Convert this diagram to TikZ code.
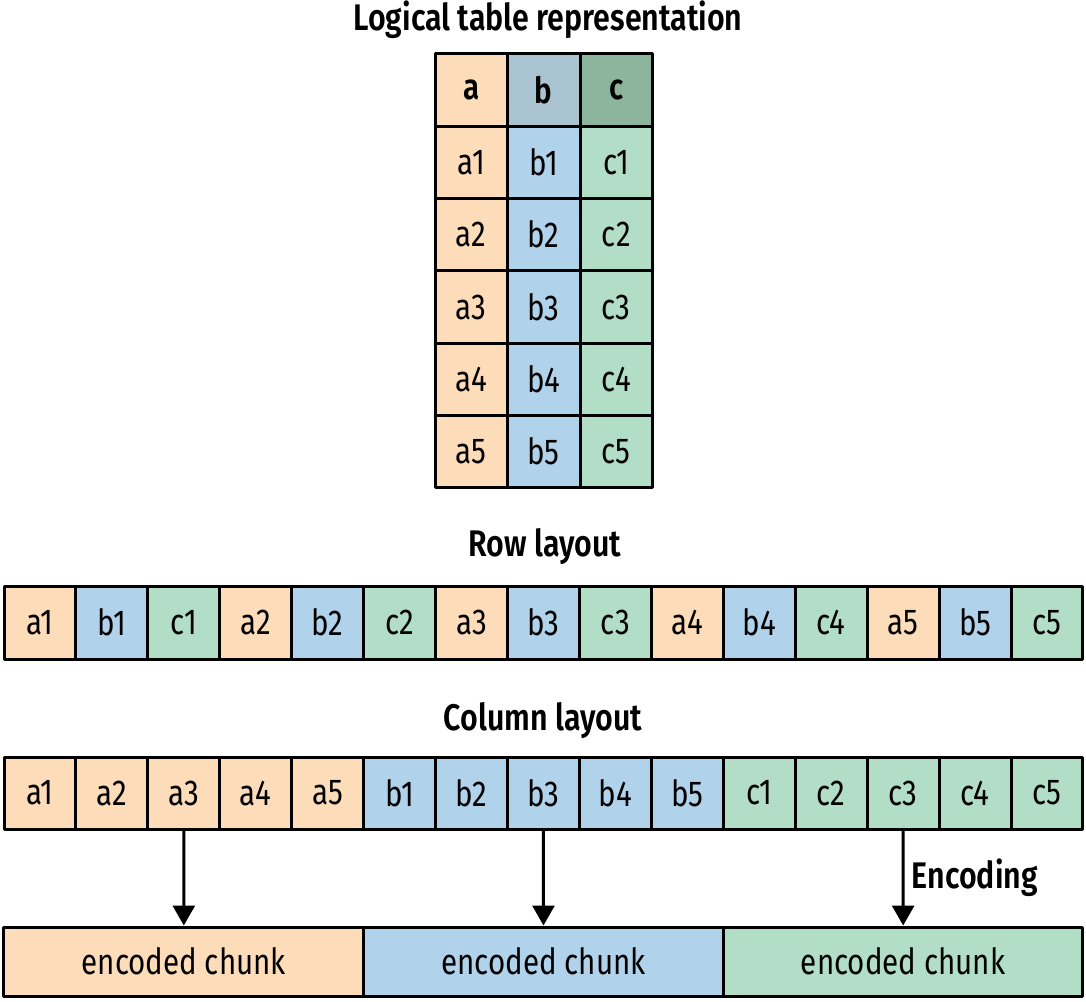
\documentclass[tikz,border=0pt]{standalone}
\usepackage{fontspec}
\setmainfont{Fira Sans}[FakeStretch=0.82,BoldFont={Fira Sans SemiBold}]
\usetikzlibrary{positioning,calc,arrows.meta}

\definecolor{colA}{HTML}{FDDDB9}
\definecolor{colB}{HTML}{B0D2EA}
\definecolor{colC}{HTML}{B2DDC6}
\definecolor{headB}{HTML}{A9C4D0}
\definecolor{headC}{HTML}{8DB49C}

\tikzset{
  cell/.style={draw, line width=3pt, inner sep=0pt, minimum width=72.5pt, minimum height=72.3pt, font=\fontsize{36}{42}\selectfont},
  rowcell/.style={cell, minimum width=71.93pt, minimum height=73pt},
  chunk/.style={cell, minimum width=359.67pt, minimum height=69pt},
  heading/.style={font=\fontsize{37}{43}\selectfont\bfseries},
  enc/.style={line width=3pt, -{Triangle[width=22pt,length=20pt]}}
}

\begin{document}
\begin{tikzpicture}[x=1pt,y=-1pt,line join=round]
\useasboundingbox (0,0) rectangle (1086,1001);
% logical table
\node[heading] (ttl) at (548,20) {Logical table representation};
\foreach \h/\c [count=\k from 0] in {a/colA,b/headB,c/headC}
  \node[cell,fill=\c,font=\fontsize{36}{42}\selectfont\bfseries] (t-\h) at (471.25+72.5*\k,90.1) {\h};
\foreach \r in {1,...,5}{
  \foreach \h/\c [count=\k from 0] in {a/colA,b/colB,c/colC}
    \node[cell,fill=\c] (t-\h\r) at (471.25+72.5*\k,90.1+72.3*\r) {\h\r};
}
% row layout
\node[heading] (rowttl) at (545,547) {Row layout};
\foreach \n/\c [count=\k from 0] in {a1/colA,b1/colB,c1/colC,a2/colA,b2/colB,c2/colC,a3/colA,b3/colB,c3/colC,a4/colA,b4/colB,c4/colC,a5/colA,b5/colB,c5/colC}
  \node[rowcell,fill=\c] (r-\n) at (39.97+71.93*\k,622.5) {\n};
% column layout
\node[heading] (colttl) at (543,721) {Column layout};
\foreach \n/\c [count=\k from 0] in {a1/colA,a2/colA,a3/colA,a4/colA,a5/colA,b1/colB,b2/colB,b3/colB,b4/colB,b5/colB,c1/colC,c2/colC,c3/colC,c4/colC,c5/colC}
  \node[rowcell,minimum height=72pt,fill=\c] (c-\n) at (39.97+71.93*\k,793) {\n};
% encoded chunks
\foreach \h/\c [count=\k from 0] in {a/colA,b/colB,c/colC}
  \node[chunk,fill=\c] (e-\h) at (183.8+359.67*\k,961.5) {encoded chunk};
\draw[enc] (c-a3.south) -- (e-a.north);
\draw[enc] (c-b3.south) -- (e-b.north);
\draw[enc] (c-c3.south) -- node[right=4pt,heading] (enctxt) {Encoding} (e-c.north);
\end{tikzpicture}
\end{document}
